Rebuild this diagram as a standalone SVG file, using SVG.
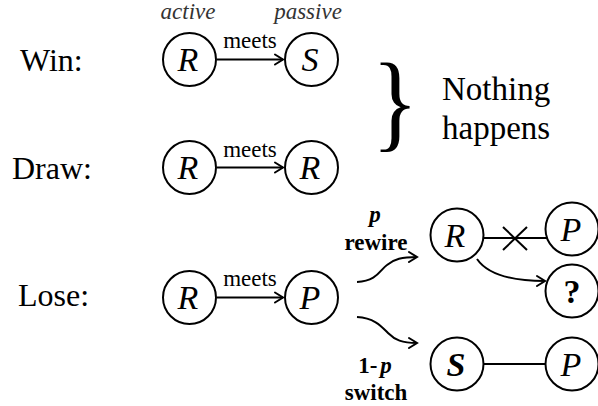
<svg xmlns="http://www.w3.org/2000/svg" width="598" height="406" viewBox="0 0 598 406">
<defs>
<marker id="arr" markerUnits="userSpaceOnUse" markerWidth="14" markerHeight="14" refX="10" refY="6" orient="auto" viewBox="0 0 14 12">
<path d="M2,1 L10,6 L2,11" fill="none" stroke="#000" stroke-width="2" stroke-linecap="round"/>
</marker>
</defs>
<rect width="598" height="406" fill="#fff"/>

<g id="labels" font-family="'Liberation Serif', serif" fill="#000">
<text font-size="32" x="20" y="71">Win:</text>
<text font-size="32" x="12" y="179">Draw:</text>
<text font-size="32" x="18" y="306">Lose:</text>
<text font-size="23" font-style="italic" fill="#333" text-anchor="middle" x="188" y="19">active</text>
<text font-size="23" font-style="italic" fill="#333" text-anchor="middle" x="308" y="19">passive</text>
<text font-size="33" x="442" y="100">Nothing</text>
<text font-size="33" x="442" y="139">happens</text>
<text font-size="108" text-anchor="middle" x="395" y="138" transform="translate(395,0) scale(0.9,1) translate(-395,0)">}</text>
<text font-size="23" font-weight="bold" font-style="italic" text-anchor="middle" x="375" y="222">p</text>
<text font-size="23" font-weight="bold" text-anchor="middle" x="376" y="250">rewire</text>
<text font-size="23" font-weight="bold" text-anchor="middle" x="375" y="373">1-<tspan font-style="italic" dx="3">p</tspan></text>
<text font-size="23" font-weight="bold" text-anchor="middle" x="376" y="400">switch</text>
</g>

<g id="connectors" fill="none" stroke="#000" stroke-width="2">
<line x1="217" y1="59.5" x2="283" y2="59.5" marker-end="url(#arr)"/>
<line x1="217" y1="167.5" x2="283" y2="167.5" marker-end="url(#arr)"/>
<line x1="217" y1="297.5" x2="283" y2="297.5" marker-end="url(#arr)"/>
<path d="M357,282 C377,281 380,270 387,265 C394,259 402,257 417,257" marker-end="url(#arr)"/>
<path d="M357,317 C375,318 382,327 388,333 C395,340 402,343 417,343" marker-end="url(#arr)"/>
<line x1="484" y1="238" x2="547" y2="238"/>
<line x1="503" y1="227" x2="527" y2="250"/>
<line x1="503" y1="250" x2="527" y2="227"/>
<path d="M477,259 C488,275 515,281 545,281" marker-end="url(#arr)"/>
<line x1="484" y1="364" x2="546" y2="364"/>
<g font-family="'Liberation Serif', serif" font-size="23" text-anchor="middle" fill="#000" stroke="none">
<text x="250" y="48">meets</text>
<text x="250" y="157">meets</text>
<text x="250" y="286">meets</text>
</g>
</g>

<g id="nodes" font-family="'Liberation Serif', serif" font-size="34" font-style="italic" text-anchor="middle">
<g id="win-R"><circle cx="189.5" cy="59.5" r="26.5" fill="#fff" stroke="#000" stroke-width="2"/><text x="188" y="71">R</text></g>
<g id="win-S"><circle cx="311.5" cy="59.5" r="26.5" fill="#fff" stroke="#000" stroke-width="2"/><text x="310" y="71">S</text></g>
<g id="draw-R1"><circle cx="189.5" cy="167.5" r="26.5" fill="#fff" stroke="#000" stroke-width="2"/><text x="188" y="179">R</text></g>
<g id="draw-R2"><circle cx="311.5" cy="167.5" r="26.5" fill="#fff" stroke="#000" stroke-width="2"/><text x="310" y="179">R</text></g>
<g id="lose-R"><circle cx="189.5" cy="297.5" r="26.5" fill="#fff" stroke="#000" stroke-width="2"/><text x="188" y="309">R</text></g>
<g id="lose-P"><circle cx="311.5" cy="297.5" r="26.5" fill="#fff" stroke="#000" stroke-width="2"/><text x="310" y="309">P</text></g>
<g id="rw-R"><circle cx="457" cy="235" r="26.5" fill="#fff" stroke="#000" stroke-width="2"/><text x="455" y="247">R</text></g>
<g id="rw-P"><circle cx="572" cy="229" r="26.5" fill="#fff" stroke="#000" stroke-width="2"/><text x="571" y="241">P</text></g>
<g id="rw-Q"><circle cx="572" cy="291" r="26.5" fill="#fff" stroke="#000" stroke-width="2"/><text font-style="normal" font-weight="bold" x="572" y="303">?</text></g>
<g id="sw-S"><circle cx="457" cy="364" r="26.5" fill="#fff" stroke="#000" stroke-width="2"/><text font-weight="bold" x="456" y="376">S</text></g>
<g id="sw-P"><circle cx="572" cy="364" r="26.5" fill="#fff" stroke="#000" stroke-width="2"/><text x="571" y="376">P</text></g>
</g>
</svg>
